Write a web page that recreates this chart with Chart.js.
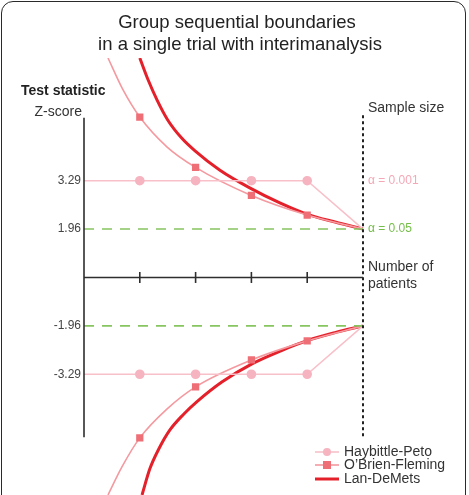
<!DOCTYPE html>
<html>
<head>
<meta charset="utf-8">
<script src="https://cdn.jsdelivr.net/npm/chart.js@4/dist/chart.umd.min.js"></script>
<style>
  html, body { margin: 0; padding: 0; background: #fff; overflow: hidden; }
  #wrap { position: relative; width: 469px; height: 495px; overflow: hidden; }
  #frame { position: absolute; left: 1px; top: 1px; width: 463px; height: 530px;
           border: 1.5px solid #2a2a2a; border-radius: 12px; pointer-events: none; }
  canvas { position: absolute; left: 0; top: 0; }
</style>
</head>
<body>
<div id="wrap">
  <canvas id="c" width="469" height="495"></canvas>
  <div id="frame"></div>
</div>
<script>
// ---- Data (schematic y-axis: boundary levels are placed at the drawn positions) ----
const titleLines = ['Group sequential boundaries', 'in a single trial with interimanalysis'];
const zTickPositions = [4, 2, -2, -4];
const zTickLabels = ['3.29', '1.96', '-1.96', '-3.29'];
const interimLooks = [1, 2, 3, 4];          // tick marks on the "Number of patients" axis
const finalLook = 5;                       // Sample size (dotted line)
const alphaStrictLevel = 4;                // alpha = 0.001 level position
const alphaLevel = 2;                      // alpha = 0.05 level position

const haybittleX = [0, 1, 2, 3, 4, 5];
const haybittleUpper = [4, 4, 4, 4, 4, 2];
const haybittleLower = [-4, -4, -4, -4, -4, -2];
const haybittleMarked = [0, 1, 1, 1, 1, 0];

const obfUpperX = [0.43, 0.70, 1, 1.49, 2, 3, 4, 5];
const obfUpper = [9.07, 7.75, 6.63, 5.39, 4.55, 3.39, 2.58, 2.0];
const obfLowerX = [0.43, 0.68, 1, 1.49, 2, 3, 4, 5];
const obfLower = [-8.99, -7.83, -6.63, -5.43, -4.52, -3.41, -2.62, -2.0];
const obfMarked = [0, 0, 1, 0, 1, 1, 1, 0];

const lanUpperX = [1.00, 1.15, 1.31, 1.50, 1.75, 1.99, 2.43, 2.97, 3.51, 3.99, 4.50, 5];
const lanUpper = [9.07, 8.16, 7.33, 6.51, 5.76, 5.23, 4.44, 3.70, 3.08, 2.62, 2.29, 2.0];
const lanLowerX = [1.04, 1.18, 1.34, 1.54, 1.79, 2.02, 2.47, 3.01, 3.54, 4.01, 4.51, 5];
const lanLower = [-8.99, -7.91, -7.09, -6.30, -5.64, -5.14, -4.32, -3.57, -3.02, -2.60, -2.27, -2.0];

const axisTop = 6.6, axisBottom = -6.6;
const sampleLineTop = 6.7;

const legendLabels = ['Haybittle-Peto', "O\u2019Brien-Fleming", 'Lan-DeMets'];

// ---- Styles ----
const FONT = '"Liberation Sans", Arial, Helvetica, sans-serif';
const C_LAN = '#e4202a';
const C_OBF_LINE = '#f4999f';
const C_OBF_PT = '#ef6f77';
const C_HP_LINE = '#f8c0c9';
const C_HP_PT = '#f6b4c0';
const C_GREEN = '#86c560';
const C_AXIS = '#2e2e2e';

const zip = (xs, ys) => xs.map((x, i) => ({ x, y: ys[i] }));
const sideClip = { left: 6, right: 6, top: 0, bottom: 0 };

const datasets = [
  // axes
  { data: [{ x: 0, y: axisTop }, { x: 0, y: axisBottom }], showLine: true, borderColor: C_AXIS, borderWidth: 1.6, pointRadius: 0, clip: false },
  { data: [{ x: 0, y: 0 }, { x: finalLook, y: 0 }], showLine: true, borderColor: C_AXIS, borderWidth: 1.6, pointRadius: 0, clip: false },
  { data: interimLooks.map(x => ({ x, y: 0 })), showLine: false, pointStyle: 'line', rotation: 90, pointRadius: 5.5, borderColor: C_AXIS, borderWidth: 1.6, clip: false },
  { data: [{ x: finalLook, y: sampleLineTop }, { x: finalLook, y: axisBottom }], showLine: true, borderColor: '#222', borderWidth: 2, borderDash: [3, 3], pointRadius: 0, clip: false },
  // alpha = 0.05 dashed
  { data: [{ x: 0, y: alphaLevel }, { x: finalLook, y: alphaLevel }], showLine: true, borderColor: C_GREEN, borderWidth: 1.6, borderDash: [10, 8], pointRadius: 0, clip: sideClip },
  { data: [{ x: 0, y: -alphaLevel }, { x: finalLook, y: -alphaLevel }], showLine: true, borderColor: C_GREEN, borderWidth: 1.6, borderDash: [10, 8], pointRadius: 0, clip: sideClip },
  // Haybittle-Peto
  { data: zip(haybittleX, haybittleUpper), showLine: true, borderColor: C_HP_LINE, borderWidth: 1.6,
    pointStyle: 'circle', pointRadius: c => haybittleMarked[c.dataIndex] ? 4 : 0, pointBackgroundColor: C_HP_PT, pointBorderColor: C_HP_PT, clip: sideClip },
  { data: zip(haybittleX, haybittleLower), showLine: true, borderColor: C_HP_LINE, borderWidth: 1.6,
    pointStyle: 'circle', pointRadius: c => haybittleMarked[c.dataIndex] ? 4 : 0, pointBackgroundColor: C_HP_PT, pointBorderColor: C_HP_PT, clip: sideClip },
  // O'Brien-Fleming
  { data: zip(obfUpperX, obfUpper), showLine: true, cubicInterpolationMode: 'monotone', borderColor: C_OBF_LINE, borderWidth: 1.6,
    pointStyle: 'rect', pointRadius: c => obfMarked[c.dataIndex] ? 4 : 0, pointBackgroundColor: C_OBF_PT, pointBorderColor: C_OBF_PT, clip: sideClip },
  { data: zip(obfLowerX, obfLower), showLine: true, cubicInterpolationMode: 'monotone', borderColor: C_OBF_LINE, borderWidth: 1.6,
    pointStyle: 'rect', pointRadius: c => obfMarked[c.dataIndex] ? 4 : 0, pointBackgroundColor: C_OBF_PT, pointBorderColor: C_OBF_PT, clip: sideClip },
  // Lan-DeMets
  { data: zip(lanUpperX, lanUpper), showLine: true, cubicInterpolationMode: 'monotone', borderColor: C_LAN, borderWidth: 3, pointRadius: 0, clip: sideClip },
  { data: zip(lanLowerX, lanLower), showLine: true, cubicInterpolationMode: 'monotone', borderColor: C_LAN, borderWidth: 3, pointRadius: 0, clip: sideClip },
];

const annotations = {
  id: 'annotations',
  afterDraw(chart) {
    const { ctx, scales: { x, y } } = chart;
    ctx.save();
    ctx.textBaseline = 'middle';
    // title
    ctx.fillStyle = '#222';
    ctx.font = '18.5px ' + FONT;
    ctx.textAlign = 'center';
    ctx.fillText(titleLines[0], 237, 23);
    ctx.fillText(titleLines[1], 240, 45);
    // y-axis titles
    ctx.font = 'bold 14px ' + FONT;
    ctx.textAlign = 'left';
    ctx.fillText('Test statistic', 21, 91);
    ctx.font = '14px ' + FONT;
    ctx.textAlign = 'right';
    ctx.fillStyle = '#333';
    ctx.fillText('Z-score', 82, 112);
    // y tick labels (positions from the y scale)
    const ax = x.getPixelForValue(0);
    ctx.font = '12px ' + FONT;
    ctx.fillStyle = '#444';
    zTickPositions.forEach((v, i) => ctx.fillText(zTickLabels[i], ax - 3, y.getPixelForValue(v)));
    // right-side labels
    const rx = x.getPixelForValue(finalLook) + 5;
    ctx.fillStyle = '#333';
    ctx.font = '14px ' + FONT;
    ctx.textAlign = 'left';
    ctx.fillText('Sample size', rx, 108);
    ctx.fillText('Number of', rx, y.getPixelForValue(0) - 10);
    ctx.fillText('patients', rx, y.getPixelForValue(0) + 7);
    ctx.font = '12px ' + FONT;
    ctx.fillStyle = '#f4a8b6';
    ctx.fillText('\u03b1 = 0.001', rx, y.getPixelForValue(alphaStrictLevel));
    ctx.fillStyle = '#74bd48';
    ctx.fillText('\u03b1 = 0.05', rx, y.getPixelForValue(alphaLevel));
    // legend
    const lx0 = 315, lx1 = 339, tx = 344;
    const rows = [452, 465, 479];
    ctx.font = '14px ' + FONT;
    ctx.strokeStyle = C_HP_LINE; ctx.lineWidth = 1.6;
    ctx.beginPath(); ctx.moveTo(lx0, rows[0]); ctx.lineTo(lx1, rows[0]); ctx.stroke();
    ctx.fillStyle = C_HP_PT;
    ctx.beginPath(); ctx.arc((lx0 + lx1) / 2, rows[0], 4, 0, Math.PI * 2); ctx.fill();
    ctx.strokeStyle = C_OBF_LINE;
    ctx.beginPath(); ctx.moveTo(lx0, rows[1]); ctx.lineTo(lx1, rows[1]); ctx.stroke();
    ctx.fillStyle = C_OBF_PT;
    ctx.fillRect((lx0 + lx1) / 2 - 4, rows[1] - 4, 8, 8);
    ctx.strokeStyle = C_LAN; ctx.lineWidth = 3;
    ctx.beginPath(); ctx.moveTo(lx0, rows[2]); ctx.lineTo(lx1, rows[2]); ctx.stroke();
    ctx.fillStyle = '#333';
    ctx.textAlign = 'left';
    legendLabels.forEach((t, i) => ctx.fillText(t, tx, rows[i]));
    ctx.restore();
  }
};

new Chart(document.getElementById('c'), {
  type: 'scatter',
  data: { datasets },
  options: {
    responsive: false,
    animation: false,
    devicePixelRatio: 1,
    layout: { autoPadding: false, padding: { left: 84, right: 106, top: 58, bottom: 0 } },
    plugins: { legend: { display: false }, title: { display: false }, tooltip: { enabled: false } },
    scales: {
      x: { type: 'linear', min: 0, max: 5, display: false },
      y: { type: 'linear', min: -8.99, max: 9.07, display: false }
    }
  },
  plugins: [annotations]
});
</script>
</body>
</html>
